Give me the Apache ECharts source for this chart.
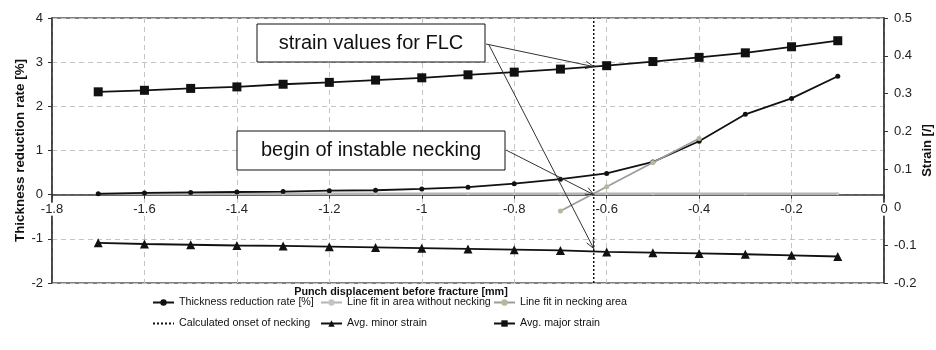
<!DOCTYPE html>
<html>
<head>
<meta charset="utf-8">
<script src="https://cdn.jsdelivr.net/npm/echarts@6/dist/echarts.min.js"></script>
<style>
html,body{margin:0;padding:0;background:#fff;}
#c{width:936px;height:350px;}
</style>
</head>
<body>
<div id="c"></div>
<script>
// ---- data ----
const xVals = [-1.7,-1.6,-1.5,-1.4,-1.3,-1.2,-1.1,-1.0,-0.9,-0.8,-0.7,-0.6,-0.5,-0.4,-0.3,-0.2,-0.1];
const thickness = [0.02,0.04,0.05,0.06,0.07,0.09,0.10,0.13,0.17,0.25,0.35,0.48,0.74,1.21,1.82,2.18,2.68];
const fitNoNeck = [0.02,0.02,0.02,0.02,0.02,0.02,0.02,0.02,0.02,0.02,0.02,0.02,0.02,0.02,0.02,0.02,0.02];
const fitNeckX = [-0.7,-0.6,-0.5,-0.4];
const fitNeck = [-0.37,0.18,0.73,1.27];
const minorStrain = [-0.094,-0.097,-0.099,-0.101,-0.102,-0.104,-0.106,-0.108,-0.110,-0.112,-0.114,-0.118,-0.120,-0.122,-0.124,-0.127,-0.130];
const majorStrain = [0.305,0.309,0.314,0.318,0.325,0.330,0.336,0.342,0.350,0.357,0.365,0.374,0.385,0.396,0.408,0.424,0.440];
const onsetX = -0.628;
const onsetRange = [-2, 4];
const xTicks = {min:-1.8, max:0, interval:0.2};
const leftTicks = {min:-2, max:4, interval:1};
const rightTicks = {min:-0.2, max:0.5, interval:0.1};
const names = {
  thick:'Thickness reduction rate [%]',
  noNeck:'Line fit in area without necking',
  neck:'Line fit in necking area',
  onset:'Calculated onset of necking',
  minor:'Avg. minor strain',
  major:'Avg. major strain'
};
const labels = {flc:'strain values for FLC', neck:'begin of instable necking'};

const FONT = 'Liberation Sans, Arial, sans-serif';
const zip = (xs, ys) => xs.map((x,i)=>[x, ys[i]]);

const chart = echarts.init(document.getElementById('c'), null, {renderer:'canvas'});

const GRID = {left:52, right:52, top:18, bottom:67};
const gridH = 350 - GRID.top - GRID.bottom;
// x axis sits at left-axis zero
const xOffset = -gridH * (0 - leftTicks.min) / (leftTicks.max - leftTicks.min);

const legendCommon = {
  orient:'vertical', top:297, padding:0, itemWidth:21, itemHeight:8, itemGap:10,
  textStyle:{fontFamily:FONT, fontSize:10.7, color:'#111'}, selectedMode:false
};

const option = {
  animation:false,
  grid:Object.assign({show:true, borderColor:'#555', borderWidth:1.5, backgroundColor:'transparent',
    containLabel:false, outerBoundsMode:'none'}, GRID),
  xAxis:{
    type:'value', min:xTicks.min, max:xTicks.max, interval:xTicks.interval,
    position:'bottom', offset:xOffset,
    axisLine:{onZero:false, lineStyle:{color:'#333', width:1.5}},
    axisTick:{show:true, length:4, lineStyle:{color:'#333'}},
    axisLabel:{fontFamily:FONT, fontSize:13, color:'#222', margin:8, backgroundColor:'#fff', padding:[0,1],
      formatter:v=>String(+v.toFixed(1))},
    splitLine:{show:true, lineStyle:{color:'#c4c4c4', type:[5,4], width:1}}
  },
  yAxis:[
    {type:'value', min:leftTicks.min, max:leftTicks.max, interval:leftTicks.interval, position:'left',
     name:'Thickness reduction rate [%]', nameLocation:'middle', nameGap:25, nameMoveOverlap:false,
     nameTextStyle:{fontFamily:FONT, fontSize:13.4, fontWeight:'bold', color:'#111'},
     axisLine:{show:true, onZero:false, lineStyle:{color:'#333', width:1.5}},
     axisTick:{show:true, length:4, lineStyle:{color:'#333'}},
     axisLabel:{fontFamily:FONT, fontSize:13, color:'#222', margin:9},
     splitLine:{show:true, lineStyle:{color:'#c4c4c4', type:[5,4], width:1}}},
    {type:'value', min:rightTicks.min, max:rightTicks.max, interval:rightTicks.interval, position:'right',
     name:'Strain [/]', nameLocation:'middle', nameGap:37, nameMoveOverlap:false,
     nameTextStyle:{fontFamily:FONT, fontSize:13, fontWeight:'bold', color:'#111'},
     axisLine:{show:true, onZero:false, lineStyle:{color:'#333', width:1.5}},
     axisTick:{show:true, length:4, lineStyle:{color:'#333'}},
     axisLabel:{fontFamily:FONT, fontSize:13, color:'#222', margin:10, formatter:v=>String(+v.toFixed(1))},
     splitLine:{show:false}}
  ],
  legend:[
    Object.assign({left:152, data:[names.thick, {name:names.onset, itemStyle:{opacity:0}}]}, legendCommon),
    Object.assign({left:320, data:[names.noNeck, names.minor]}, legendCommon),
    Object.assign({left:493, data:[names.neck, names.major]}, legendCommon)
  ],
  series:[
    {name:names.noNeck, type:'line', yAxisIndex:0, data:zip(xVals, fitNoNeck),
     symbol:'circle', symbolSize:3, showSymbol:true,
     lineStyle:{color:'#b4b4b4', width:2.5}, itemStyle:{color:'#c4c4c4'}, z:3},
    {name:names.thick, type:'line', yAxisIndex:0, data:zip(xVals, thickness),
     symbol:'circle', symbolSize:5,
     lineStyle:{color:'#111', width:1.8}, itemStyle:{color:'#111'}, z:4},
    {name:names.neck, type:'line', yAxisIndex:0, data:zip(fitNeckX, fitNeck),
     symbol:'circle', symbolSize:5,
     lineStyle:{color:'#9c9c9c', width:1.8}, itemStyle:{color:'#b6b99c'}, z:5},
    {name:names.onset, type:'line', yAxisIndex:0, data:[[onsetX, onsetRange[0]],[onsetX, onsetRange[1]]],
     symbol:'none', lineStyle:{color:'#111', width:1.5, type:[2,2]}, itemStyle:{color:'#111'}, z:3},
    {name:names.minor, type:'line', yAxisIndex:1, data:zip(xVals, minorStrain),
     symbol:'triangle', symbolSize:9,
     lineStyle:{color:'#111', width:1.8}, itemStyle:{color:'#111'}, z:4},
    {name:names.major, type:'line', yAxisIndex:1, data:zip(xVals, majorStrain),
     symbol:'rect', symbolSize:9,
     lineStyle:{color:'#111', width:1.8}, itemStyle:{color:'#111'}, z:4}
  ]
};
chart.setOption(option);

function interp(xs, ys, x){
  for(let i=0;i<xs.length-1;i++){
    if(x>=xs[i] && x<=xs[i+1]){
      const t=(x-xs[i])/(xs[i+1]-xs[i]);
      return ys[i]+t*(ys[i+1]-ys[i]);
    }
  }
  return ys[ys.length-1];
}
const pMajor = chart.convertToPixel({xAxisIndex:0, yAxisIndex:1}, [onsetX, interp(xVals, majorStrain, onsetX)]);
const pMinor = chart.convertToPixel({xAxisIndex:0, yAxisIndex:1}, [onsetX, interp(xVals, minorStrain, onsetX)]);
const pZero  = chart.convertToPixel({xAxisIndex:0, yAxisIndex:0}, [onsetX, 0]);

function arrow(x1,y1,x2,y2){
  const a=Math.atan2(y2-y1,x2-x1), L=9, h=0.42;
  return [
    {type:'line', shape:{x1,y1,x2,y2}, style:{stroke:'#333', lineWidth:1}, z:20, silent:true},
    {type:'polyline', shape:{points:[
      [x2-L*Math.cos(a-h), y2-L*Math.sin(a-h)], [x2,y2], [x2-L*Math.cos(a+h), y2-L*Math.sin(a+h)]
    ]}, style:{stroke:'#333', lineWidth:1, fill:null}, z:20, silent:true}
  ];
}
function box(x,y,w,h,text){
  return {type:'group', z:15, children:[
    {type:'rect', shape:{x,y,width:w,height:h}, style:{fill:'#fff', stroke:'#111', lineWidth:1}, z:15},
    {type:'text', x:x+w/2, y:y+h/2, style:{text, fontFamily:FONT, fontSize:20, fill:'#111', align:'center', verticalAlign:'middle'}, z:16}
  ]};
}

const graphics = [
  box(257,24,228,38,labels.flc),
  box(237,131,268,39,labels.neck),
  ...arrow(486,44,pMajor[0],pMajor[1]),
  ...arrow(489,45,pMinor[0],pMinor[1]-3),
  ...arrow(506,150,pZero[0],pZero[1]),
  {type:'text', x:401, y:292, style:{text:'Punch displacement before fracture [mm]', fontFamily:FONT, fontSize:10.8, fontWeight:'bold', fill:'#111', align:'center', verticalAlign:'middle'}}
];
chart.setOption({graphic:graphics});
</script>
</body>
</html>
